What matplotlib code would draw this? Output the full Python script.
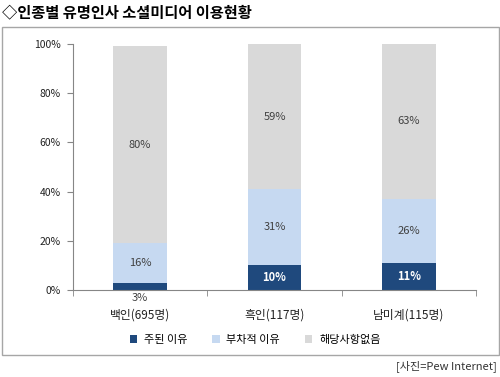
import matplotlib
matplotlib.use('Agg')
import matplotlib.pyplot as plt
from matplotlib.patches import Rectangle
import numpy as np

plt.rcParams['font.family'] = ['Noto Sans CJK KR', 'DejaVu Sans']

# data
groups = ['백인(695명)', '흑인(117명)', '남미계(115명)']
series_names = ['주된 이유', '부차적 이유', '해당사항없음']
main_reason = [3, 10, 11]
sub_reason = [16, 31, 26]
none_reason = [80, 59, 63]
colors = ['#1F497D', '#C6D9F1', '#D9D9D9']
yticks = [0, 20, 40, 60, 80, 100]

fig = plt.figure(figsize=(5.0, 3.77), dpi=100)
ax = fig.add_axes([0.146, 0.2308, 0.806, 0.6525])

x = np.arange(len(groups))
w = 0.4
bottom = np.zeros(len(groups))
bars = []
for vals, c in zip([main_reason, sub_reason, none_reason], colors):
    b = ax.bar(x, vals, w, bottom=bottom, color=c, edgecolor='none')
    bars.append(b)
    bottom += np.array(vals)

# data labels
for i in range(len(groups)):
    v = main_reason[i]
    if v < 5:
        ax.annotate(f'{v}%', (x[i], 0), xytext=(0, -2), textcoords='offset points',
                    ha='center', va='top', fontsize=8, color='#404040', fontweight='medium')
    else:
        ax.text(x[i], v / 2, f'{v}%', ha='center', va='center', fontsize=8,
                color='white', fontweight='bold')
    s = sub_reason[i]
    ax.text(x[i], v + s / 2, f'{s}%', ha='center', va='center', fontsize=8,
            color='#404040', fontweight='medium')
    n = none_reason[i]
    ax.text(x[i], v + s + n / 2, f'{n}%', ha='center', va='center', fontsize=8,
            color='#404040', fontweight='medium')

ax.set_xlim(-0.5, 2.5)
ax.set_ylim(0, 100)
ax.set_yticks(yticks)
ax.set_yticklabels([f'{t}%' for t in yticks], fontsize=7.5, color='#222222')
ax.set_xticks(x)
ax.set_xticklabels(groups, fontsize=8.5, color='#222222')
ax.set_xticks([-0.5, 0.5, 1.5, 2.5], minor=True)
ax.tick_params(axis='x', which='major', length=0, pad=13)
ax.tick_params(axis='x', which='minor', length=4, color='#868686', direction='out')
ax.tick_params(axis='y', length=4, color='#868686', direction='out', pad=5)
for sp in ['top', 'right']:
    ax.spines[sp].set_visible(False)
for sp in ['left', 'bottom']:
    ax.spines[sp].set_color('#868686')
    ax.spines[sp].set_linewidth(0.8)

leg = fig.legend([b[0] for b in bars], series_names, loc='center',
                 bbox_to_anchor=(0.51, 1 - 340 / 377), ncol=3, frameon=False,
                 fontsize=8, handlelength=0.7, handleheight=0.7,
                 columnspacing=2.2, handletextpad=0.6)

# outer frame
fig.patches.append(Rectangle((2 / 500, 1 - 355 / 377), 497 / 500, 328 / 377,
                             transform=fig.transFigure, fill=False,
                             edgecolor='#A6A6A6', linewidth=1))

fig.text(2 / 500, 1 - 12 / 377, '◇인종별 유명인사 소셜미디어 이용현황',
         ha='left', va='center', fontsize=11, fontweight='bold', color='black')
fig.text(497 / 500, 1 - 366 / 377, '[사진=Pew Internet]', ha='right', va='center',
         fontsize=8, color='#333333')

fig.savefig('out.png', dpi=100)
